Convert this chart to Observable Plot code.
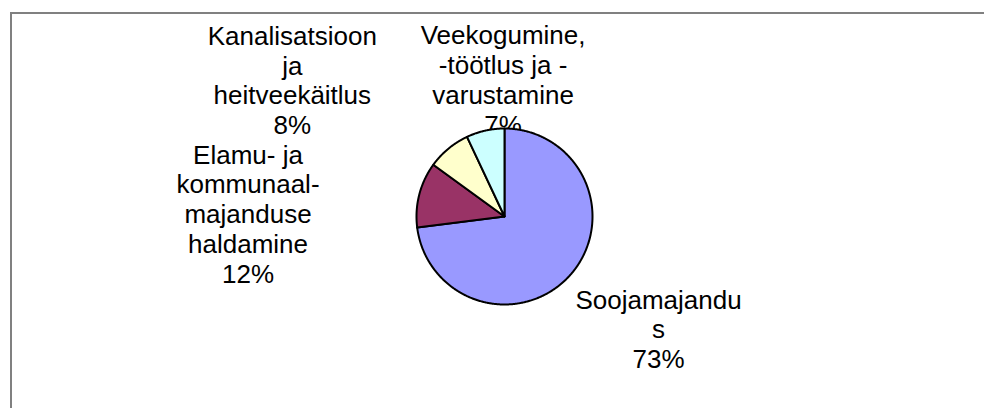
<!DOCTYPE html>
<html>
<head>
<meta charset="utf-8">
<script src="https://cdn.jsdelivr.net/npm/d3@7"></script>
<script src="https://cdn.jsdelivr.net/npm/@observablehq/plot@0.6"></script>
<style>
  html, body { margin: 0; padding: 0; background: #fff; overflow: hidden; }
  #wrap { position: relative; width: 984px; height: 408px; overflow: hidden; }
  #frame { position: absolute; left: 10px; top: 12px; width: 1000px; height: 420px;
           border-left: 2px solid #808080; border-top: 2px solid #808080; pointer-events: none; }
  svg { display: block; }
</style>
</head>
<body>
<div id="wrap"><div id="frame"></div></div>
<script>
// ---- data ----
const categories = [
  "Soojamajandus",
  "Elamu- ja kommunaalmajanduse haldamine",
  "Kanalisatsioon ja heitveekäitlus",
  "Veekogumine, -töötlus ja -varustamine"
];
const labelLines = [
  "Soojamajandu\ns",
  "Elamu- ja\nkommunaal-\nmajanduse\nhaldamine",
  "Kanalisatsioon\nja\nheitveekäitlus",
  "Veekogumine,\n-töötlus ja -\nvarustamine"
];
const values = [73, 12, 8, 7];
const colors = ["#9999FF", "#993366", "#FFFFCC", "#CCFFFF"];

// ---- layout ----
const W = 984, H = 408;
const cx = 504, cy = 216, rpx = 88;          // pie centre and radius in pixels
const labelR = 2.0;                           // label radius (in pie radii)
const labelNudge = [[22, -4], [-86, 41], [-100, -1], [37, 35]]; // px, y down

const total = d3.sum(values);
let acc = 0;
const slices = categories.map((c, i) => {
  const a0 = acc / total * 2 * Math.PI;
  acc += values[i];
  const a1 = acc / total * 2 * Math.PI;
  return {c, i, a0, a1, mid: (a0 + a1) / 2};
});

const piePts = slices.flatMap(s => {
  const n = Math.max(2, Math.ceil((s.a1 - s.a0) / (Math.PI / 360)));
  const pts = [{c: s.c, x: 0, y: 0}];
  for (let k = 0; k <= n; k++) {
    const a = s.a0 + (s.a1 - s.a0) * k / n;
    pts.push({c: s.c, x: Math.sin(a), y: Math.cos(a)});
  }
  pts.push({c: s.c, x: 0, y: 0});
  return pts;
});

const labels = slices.map(s => ({
  c: s.c,
  x: labelR * Math.sin(s.mid) + labelNudge[s.i][0] / rpx,
  y: labelR * Math.cos(s.mid) - labelNudge[s.i][1] / rpx,
  text: labelLines[s.i] + "\n" + values[s.i] + "%"
}));

const chart = Plot.plot({
  width: W, height: H,
  margin: 0,
  x: {domain: [-cx / rpx, (W - cx) / rpx], axis: null},
  y: {domain: [-(H - cy) / rpx, cy / rpx], axis: null},
  color: {type: "ordinal", domain: categories, range: colors},
  style: {background: "transparent"},
  marks: [
    Plot.text(labels, {
      x: "x", y: "y", text: "text",
      fontSize: 26, fontFamily: "Liberation Sans, Arial, sans-serif",
      lineHeight: 1.15, textAnchor: "middle", lineAnchor: "middle", fill: "black"
    }),
    Plot.line(piePts, {
      x: "x", y: "y", z: "c", fill: "c",
      stroke: "black", strokeWidth: 2, strokeLinejoin: "round"
    })
  ]
});
document.getElementById("wrap").prepend(chart);
</script>
</body>
</html>
